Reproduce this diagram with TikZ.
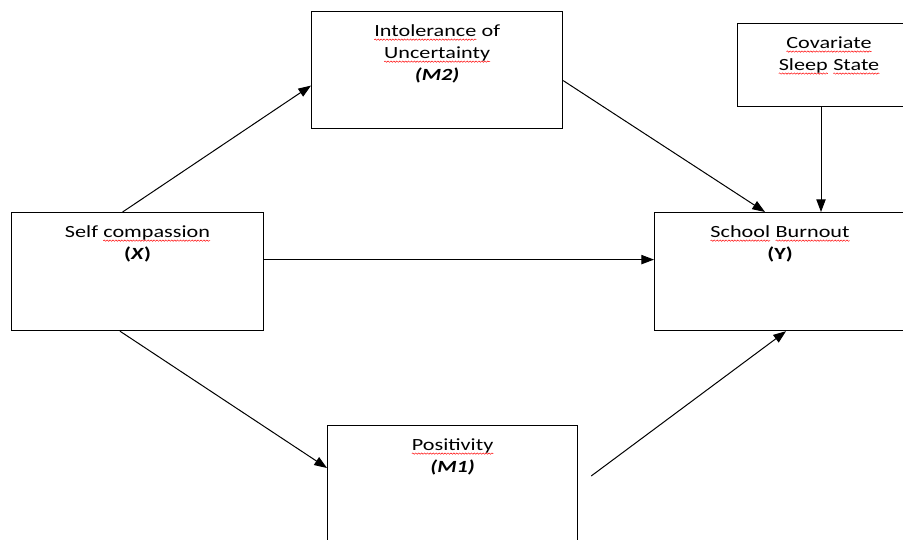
\documentclass[tikz,border=0pt]{standalone}
\usepackage{fontspec}
\setmainfont{Carlito}[FakeStretch=1.3]
\usetikzlibrary{arrows.meta,calc,decorations.pathmorphing}
% red wavy underline
\newcommand\spell[1]{\tikz[baseline=(w.base)]{\node[inner sep=0pt, outer sep=0pt, anchor=base, xshift=0pt, yshift=0pt, draw=none] (w) at (0pt,0pt) {#1};
  \draw[red, line width=0.35pt, decorate, decoration={snake, amplitude=0.5pt, segment length=2.2pt}] ([yshift=-2.4pt]w.base west) -- ([yshift=-2.4pt]w.base east);}}
\begin{document}
\begin{tikzpicture}[x=0.75pt,y=-0.75pt,
  box/.style={draw, line width=0.9pt, anchor=north west, inner sep=0pt},
  lbl/.style={anchor=north, align=center, font=\fontsize{12.8}{16.5}\selectfont, inner sep=0pt, yshift=-10pt},
  arr/.style={draw, line width=0.75pt, -{Triangle[length=9.5pt,width=7pt]}}]
\useasboundingbox (0,0) rectangle (903,539);
\clip (0,0) rectangle (903,539);
\node[box, minimum width=188.25pt, minimum height=87.75pt] (m2) at (311,11) {};
\node[box, minimum width=131.25pt, minimum height=62.25pt] (cov) at (737,23) {};
\node[box, minimum width=189pt, minimum height=88.5pt] (x) at (11,212) {};
\node[box, minimum width=193.5pt, minimum height=88.5pt] (y) at (654,212) {};
\node[box, minimum width=187.5pt, minimum height=93.75pt] (m1) at (327,425) {};
\node[lbl] (m2t) at (m2.north) {\spell{Intolerance} of\\\spell{Uncertainty}\\\textbf{\textit{(M2)}}};
\node[lbl] (covt) at ($(cov.north west)+(92,0)$) {\spell{Covariate}\\\spell{Sleep} \spell{State}};
\node[lbl] (xt) at (x.north) {Self \spell{compassion}\\\textbf{(\textit{X})}};
\node[lbl] (yt) at ($(y.north west)+(126,0)$) {\spell{School} \spell{Burnout}\\\textbf{(Y)}};
\node[lbl] (m1t) at (m1.north) {\spell{Positivity}\\\textbf{\textit{(M1)}}};
\path[arr] ($(x.north)+(-15,0)$) -- ($(m2.west)+(0,15.5)$);
\path[arr] ($(m2.east)+(0,10.5)$) -- ($(y.north west)+(111,0)$);
\path[arr] ($(cov.south west)+(84,0)$) -- ($(y.north west)+(167,0)$);
\path[arr] ($(x.east)+(0,-12)$) -- ($(y.west)+(0,-12)$);
\path[arr] ($(x.south west)+(109,0)$) -- ($(m1.north west)+(0,43)$);
\path[arr] ($(m1.north east)+(13,51)$) -- ($(y.south west)+(132,0)$);
\end{tikzpicture}
\end{document}
